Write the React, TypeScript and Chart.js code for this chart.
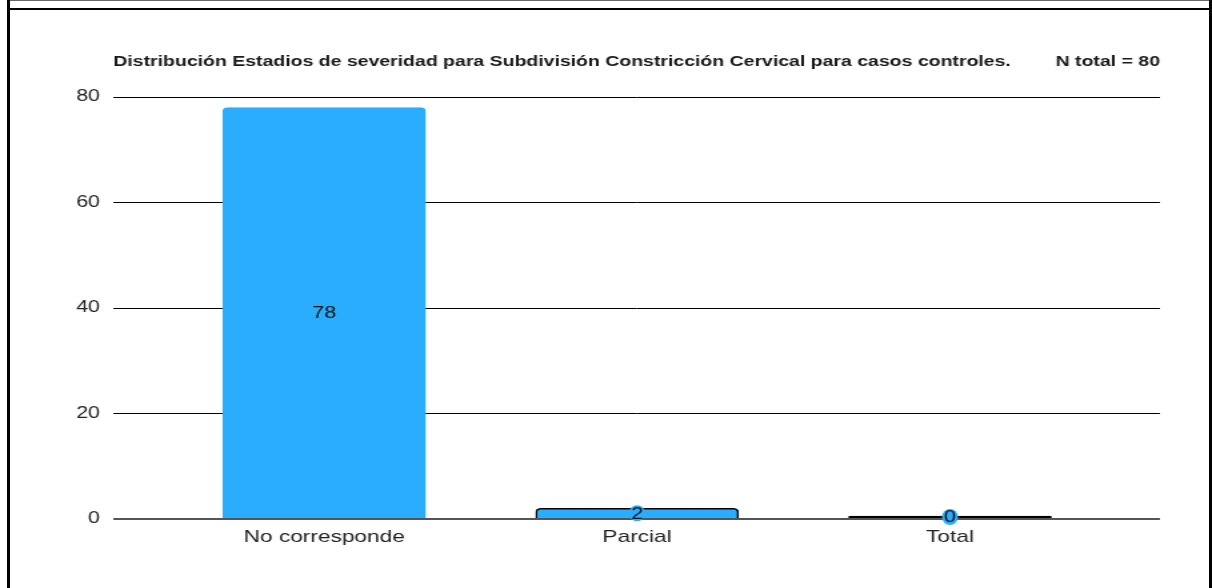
import React, { useEffect, useRef } from 'react';
import { Chart, registerables } from 'chart.js';

Chart.register(...registerables);

// ---- data ----
const categories: string[] = ['No corresponde', 'Parcial', 'Total'];
const counts: number[] = [78, 2, 0];
const yMin = 0;
const yMax = 80;
const yStep = 20;
const xMin = -0.674;
const xMax = 2.671;
const titleText = 'Distribución Estadios de severidad para Subdivisión Constricción Cervical para casos controles.';
const totalText = 'N total = 80';

// ---- layout / style ----
const CSS_W = 1212;
const CSS_H = 588;
const SX = 4 / 3; // horizontal stretch of the canvas
const INT_W = Math.round(CSS_W / SX);
const BLUE = '#2badfe';
const FONT = "'Liberation Sans', Arial, Helvetica, sans-serif";

export default function App() {
  const ref = useRef<HTMLCanvasElement>(null);

  useEffect(() => {
    const canvas = ref.current!;

    const headerPlugin = {
      id: 'headerText',
      afterDraw(chart: any) {
        const { ctx, chartArea } = chart;
        ctx.save();
        ctx.fillStyle = '#1a1a1a';
        ctx.font = `bold 14.6px ${FONT}`;
        ctx.textBaseline = 'alphabetic';
        ctx.textAlign = 'left';
        ctx.fillText(titleText, chartArea.left, 66);
        ctx.textAlign = 'right';
        ctx.fillText(totalText, chartArea.right, 66);
        ctx.restore();
      },
    };

    const valuePlugin = {
      id: 'valueLabels',
      afterDatasetsDraw(chart: any) {
        const { ctx } = chart;
        const meta = chart.getDatasetMeta(0);
        ctx.save();
        meta.data.forEach((el: any, i: number) => {
          const { x, y, base } = el.getProps(['x', 'y', 'base'], true);
          const cy = (y + base) / 2;
          ctx.beginPath();
          ctx.ellipse(x, cy, 8 / SX, 8, 0, 0, Math.PI * 2);
          ctx.fillStyle = BLUE;
          ctx.fill();
          ctx.fillStyle = '#111';
          ctx.font = `16px ${FONT}`;
          ctx.textAlign = 'center';
          ctx.textBaseline = 'middle';
          ctx.fillText(String(counts[i]), x, cy + 1);
        });
        ctx.restore();
      },
    };

    const chart = new Chart(canvas, {
      type: 'bar',
      data: {
        datasets: [
          {
            data: counts.map((v, i) => ({ x: i, y: v })),
            backgroundColor: counts.map((v) => (v === 0 ? '#000' : BLUE)),
            borderColor: [BLUE, '#000', '#000'],
            borderWidth: 1.5,
            borderRadius: 4,
            borderSkipped: 'bottom',
            barThickness: 152,
            minBarLength: 3,
          } as any,
        ],
      },
      options: {
        responsive: false,
        animation: false,
        devicePixelRatio: 1,
        layout: { padding: { top: 97, right: INT_W - 870, bottom: 0, left: 0 } },
        plugins: {
          legend: { display: false },
          tooltip: { enabled: false },
          title: { display: false },
        },
        scales: {
          x: {
            type: 'linear',
            offset: false,
            min: xMin,
            max: xMax,
            afterBuildTicks: (s: any) => {
              s.ticks = categories.map((_, i) => ({ value: i }));
            },
            afterFit: (s: any) => {
              s.height = 69;
            },
            ticks: {
              callback: (v: any) => categories[v] ?? '',
              color: '#222',
              font: { family: FONT, size: 17 },
              padding: 8,
              autoSkip: false,
              maxRotation: 0,
            },
            grid: { display: false, drawTicks: false, offset: false },
            border: { display: false },
          },
          y: {
            min: yMin,
            max: yMax,
            afterFit: (s: any) => {
              s.width = 85;
            },
            ticks: {
              stepSize: yStep,
              color: '#222',
              font: { family: FONT, size: 16 },
              padding: 10,
            },
            grid: {
              drawTicks: false,
              color: (c: any) => (c.tick && c.tick.value === 0 ? '#555' : '#000'),
              lineWidth: (c: any) => (c.tick && c.tick.value === 0 ? 2 : 1),
            },
            border: { display: false },
          },
        },
      } as any,
      plugins: [headerPlugin, valuePlugin],
    });

    return () => chart.destroy();
  }, []);

  return (
    <div>
      <canvas
        ref={ref}
        width={INT_W}
        height={CSS_H}
        style={{ position: 'fixed', left: 0, top: 0, width: `${CSS_W}px`, height: `${CSS_H}px` }}
      />
      <div style={{ position: 'fixed', left: 7, top: 0, width: 1205, height: 1, background: '#666' }} />
      <div style={{ position: 'fixed', left: 7, top: 0, width: 3, height: CSS_H, background: '#000' }} />
      <div style={{ position: 'fixed', left: 1209, top: 0, width: 3, height: CSS_H, background: '#000' }} />
      <div style={{ position: 'fixed', left: 7, top: 8, width: 1205, height: 2, background: '#000' }} />
    </div>
  );
}
